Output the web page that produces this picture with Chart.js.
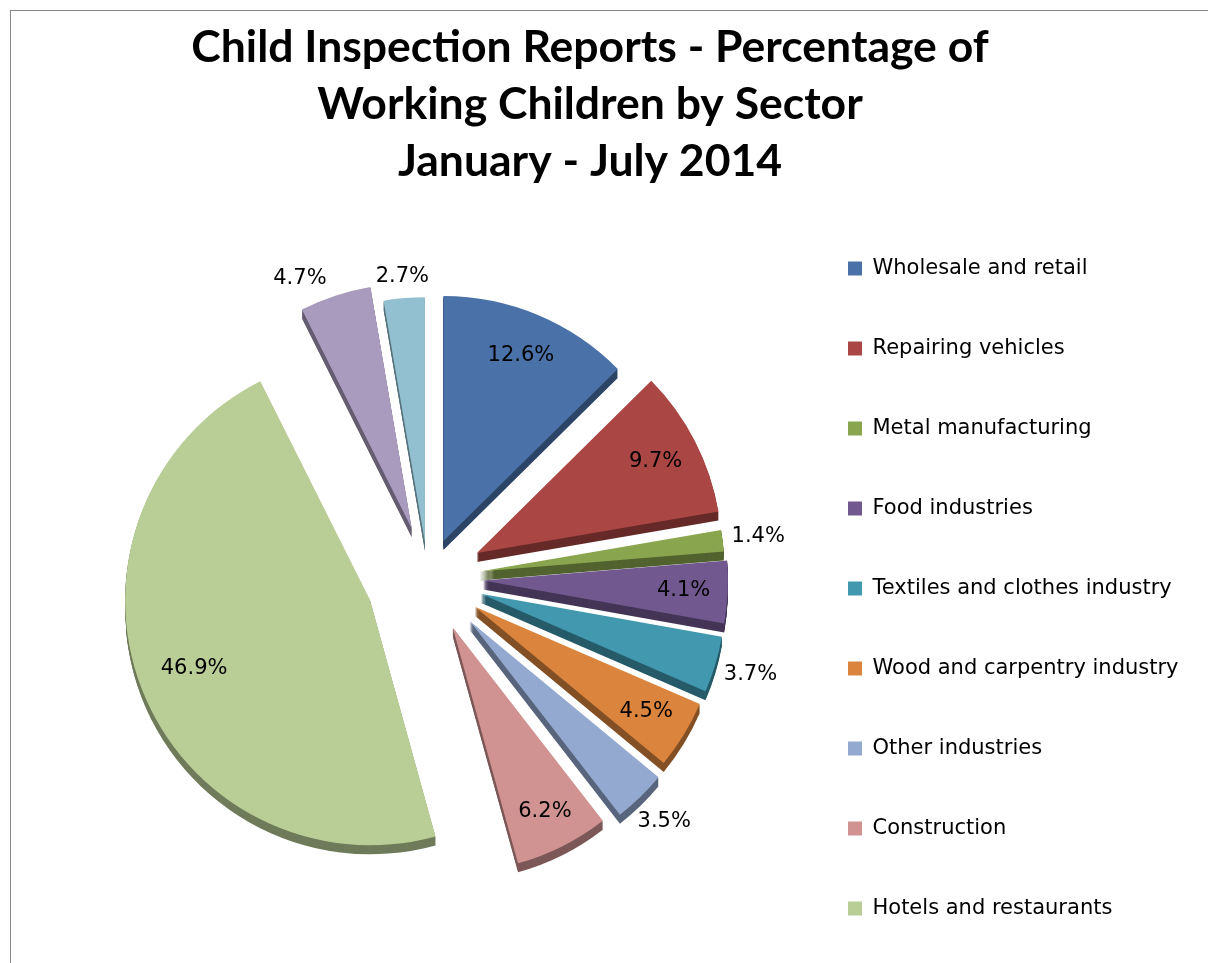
<!DOCTYPE html>
<html>
<head>
<meta charset="utf-8">
<script src="https://cdn.jsdelivr.net/npm/chart.js@4.4.1/dist/chart.umd.min.js"></script>
<style>
  html, body { margin: 0; padding: 0; background: #ffffff; overflow: hidden; width: 1208px; height: 963px; }
  #frame { position: absolute; left: 10px; top: 10px; width: 1400px; height: 1200px; border: 1px solid #868686; box-sizing: border-box; }
  #c { position: absolute; left: 0; top: 0; }
</style>
</head>
<body>
<div id="frame"></div>
<canvas id="c" width="1208" height="978"></canvas>
<script>
// ---- data ----
const titleLines = ['Child Inspection Reports - Percentage of', 'Working Children by Sector', 'January - July 2014'];
const categories = [
  'Wholesale and retail',
  'Repairing vehicles',
  'Metal manufacturing',
  'Food industries',
  'Textiles and clothes industry',
  'Wood and carpentry industry',
  'Other industries',
  'Construction',
  'Hotels and restaurants'
];
const values = [12.6, 9.7, 1.4, 4.1, 3.7, 4.5, 3.5, 6.2, 46.9, 4.7, 2.7];

// ---- styles ----
const colors = ['#4A72A8', '#AA4643', '#89A54E', '#71588F', '#4198AF', '#DB843D', '#93A9CF', '#D19392', '#B9CD96', '#A99BBD', '#92C0D1'];
const explode = [40, 55, 52, 55, 55, 55, 60, 55, 62, 52, 36];
const labelInside = [true, true, false, true, false, true, false, true, true, false, false];
const labelRadial = [0.82, 0.82, 0, 0.82, 0, 0.82, 0, 0.84, 0.77, 0, 0];
const labelAlong = [0.5, 0.5, 0.5, 0.5, 0.5, 0.5, 0.5, 0.5, 0.5, 0.15, 0.5];
const depth = 9;

function darken(hex, f) {
  const n = parseInt(hex.slice(1), 16);
  const r = Math.round(((n >> 16) & 255) * f), g = Math.round(((n >> 8) & 255) * f), b = Math.round((n & 255) * f);
  return `rgb(${r},${g},${b})`;
}
const sideColors = colors.map(c => darken(c, 0.6));

const pie3d = {
  id: 'pie3d',
  afterLayout(chart) {
    // let the legend labels run to the canvas edge without being clipped
    const lg = chart.legend;
    if (lg) { lg.right = chart.width; lg.width = lg.right - lg.left; }
  },
  beforeDatasetDraw(chart, args) {
    const ctx = chart.ctx;
    const arcs = args.meta.data;
    ctx.save();
    arcs.forEach((el, i) => {
      const p = el.getProps(['x', 'y', 'startAngle', 'endAngle', 'outerRadius'], true);
      const mid = (p.startAngle + p.endAngle) / 2;
      const cx = p.x + Math.cos(mid) * explode[i];
      const cy = p.y + Math.sin(mid) * explode[i];
      ctx.fillStyle = sideColors[i];
      for (let k = depth; k >= 1; k--) {
        ctx.beginPath();
        ctx.moveTo(cx, cy + k);
        ctx.arc(cx, cy + k, p.outerRadius, p.startAngle, p.endAngle);
        ctx.closePath();
        ctx.fill();
      }
    });
    arcs.forEach((el, i) => {
      const p = el.getProps(['startAngle', 'endAngle'], true);
      const mid = (p.startAngle + p.endAngle) / 2;
      ctx.save();
      ctx.translate(Math.cos(mid) * explode[i], Math.sin(mid) * explode[i]);
      el.draw(ctx, chart.chartArea);
      ctx.restore();
    });
    ctx.restore();
    return false;
  },
  afterDatasetsDraw(chart) {
    const ctx = chart.ctx;
    const meta = chart.getDatasetMeta(0);
    ctx.save();
    ctx.font = '21px "DejaVu Sans"';
    ctx.fillStyle = '#000000';
    ctx.textAlign = 'center';
    ctx.textBaseline = 'middle';
    meta.data.forEach((el, i) => {
      const p = el.getProps(['x', 'y', 'startAngle', 'endAngle', 'outerRadius'], true);
      const mid = (p.startAngle + p.endAngle) / 2;
      const mx = Math.cos(mid), my = Math.sin(mid);
      const ang = p.startAngle + (p.endAngle - p.startAngle) * labelAlong[i];
      const dx = Math.cos(ang), dy = Math.sin(ang);
      const text = values[i].toFixed(1) + '%';
      const ox = p.x + mx * explode[i], oy = p.y + my * explode[i];
      let dist;
      if (labelInside[i]) {
        dist = p.outerRadius * labelRadial[i];
      } else {
        const w = ctx.measureText(text).width;
        const ext = Math.abs(dx) * w / 2 + Math.abs(dy) * 11;
        dist = p.outerRadius + 8 + ext;
      }
      ctx.fillText(text, ox + dx * dist, oy + dy * dist);
    });
    ctx.restore();
  }
};

const chart = new Chart(document.getElementById('c'), {
  type: 'pie',
  data: {
    labels: categories,
    datasets: [{
      data: values,
      backgroundColor: colors,
      borderWidth: 0,
      offset: 0,
      radius: 245
    }]
  },
  options: {
    responsive: false,
    devicePixelRatio: 1,
    animation: false,
    layout: { padding: { left: 8, right: 36, top: 0, bottom: 0 } },
    plugins: {
      tooltip: { enabled: false },
      title: {
        display: true,
        text: titleLines,
        color: '#000000',
        font: { family: 'Lato', size: 44.5, weight: 'bold', lineHeight: '57px' },
        padding: { top: 19.5, bottom: -12.5 }
      },
      legend: {
        display: true,
        position: 'right',
        align: 'end',
        maxWidth: 324,
        labels: {
          color: '#000000',
          font: { family: 'DejaVu Sans', size: 21, lineHeight: '80px' },
          boxWidth: 14,
          boxHeight: 14,
          padding: 0,
          generateLabels(chart) {
            const items = Chart.overrides.pie.plugins.legend.labels.generateLabels(chart);
            return items.map(it => Object.assign(it, { text: [it.text], lineWidth: 0 }));
          }
        }
      }
    }
  },
  plugins: [pie3d]
});
</script>
</body>
</html>
